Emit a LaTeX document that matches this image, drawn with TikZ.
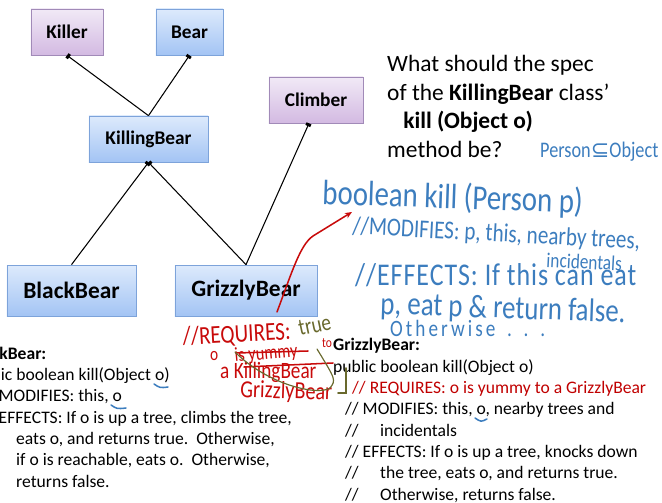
\documentclass[tikz,border=0pt]{standalone}
\usepackage{fontspec}
\setmainfont{Carlito}
\newfontfamily\handfont[FakeStretch=0.82]{Carlito}
\newfontfamily\symfont{DejaVu Sans}
\usetikzlibrary{arrows.meta,calc}

\definecolor{bluetop}{RGB}{221,234,252}
\definecolor{bluebottom}{RGB}{163,196,244}
\definecolor{blueline}{RGB}{125,163,218}
\definecolor{purpletop}{RGB}{241,233,246}
\definecolor{purplebottom}{RGB}{211,186,226}
\definecolor{purpleline}{RGB}{161,138,184}
\definecolor{inkblue}{RGB}{60,125,190}
\definecolor{inkred}{RGB}{200,10,10}
\definecolor{inkolive}{RGB}{105,105,45}
\definecolor{specred}{RGB}{192,0,0}

\begin{document}
\begin{tikzpicture}[x=0.03cm,y=-0.03cm]
\tikzset{
    classbox/.style={
       line width=0.6pt,
       inner sep=0pt,
       font=\bfseries\fontsize{16.5}{20}\selectfont
    },
    bluebox/.style={classbox, draw=blueline, top color=bluetop, bottom color=bluebottom},
    purplebox/.style={classbox, draw=purpleline, top color=purpletop, bottom color=purplebottom},
    bigbox/.style={font=\bfseries\fontsize{20}{24}\selectfont},
    link/.style={{Square[length=2.5pt,width=4.5pt]}-, line width=0.9pt},
    code/.style={align=left, inner sep=0pt, anchor=base west, font=\fontsize{15}{18.2}\selectfont},
    hand/.style={inner sep=0pt, anchor=base west, font=\handfont},
    ink/.style={line width=1.3pt, line cap=round}
}
\useasboundingbox (0,0) rectangle (662,503);
\clip (0,0) rectangle (662,503);
%
\node[purplebox, minimum width=2.16cm, minimum height=1.38cm] (killer) at (67,32) {Killer};
\node[bluebox, minimum width=2.01cm, minimum height=1.38cm] (bear) at (189.5,32) {Bear};
\node[purplebox, minimum width=2.82cm, minimum height=1.38cm] (climber) at (316,100) {Climber};
\node[bluebox, minimum width=3.57cm, minimum height=1.38cm] (killingbear) at (148.5,139) {KillingBear};
\node[bluebox, bigbox, minimum width=3.87cm, minimum height=1.53cm] (blackbear) at (71.5,290.5) {BlackBear};
\node[bluebox, bigbox, minimum width=4.26cm, minimum height=1.53cm] (grizzlybear) at (246,290.5) {GrizzlyBear};

\draw[link] (killer.south) -- (killingbear.north);
\draw[link] (bear.south) -- (killingbear.north);
\draw[link] ($(climber.south)+(-7,0)$) -- (grizzlybear.north);
\draw[link] (killingbear.south) -- (blackbear.north);
\draw[link] (killingbear.south) -- (grizzlybear.north);
%
\node[code, font=\fontsize{20}{24.3}\selectfont] (question) at (387,157)
  {What should the spec\\of the \textbf{KillingBear} class’\\\hspace{13.7pt}\textbf{kill (Object o)}\\method be?};
%
\node[code] (blackspec) at (-31,487)
  {\textbf{BlackBear:}\\
   public boolean kill(Object o)\\
   \hspace{10.2pt}// MODIFIES: this, o\\
   \hspace{10.2pt}// EFFECTS: If o is up a tree, climbs the tree,\\
   \hspace{40.1pt}eats o, and returns true.\ \ Otherwise,\\
   \hspace{40.1pt}if o is reachable, eats o.\ \ Otherwise,\\
   \hspace{40.1pt}returns false.};
\node[code] (grizzlyspec) at (333,500)
  {\textbf{GrizzlyBear:}\\
   public boolean kill(Object o)\\
   \hspace{16.2pt}\textcolor{specred}{// REQUIRES: o is yummy to a GrizzlyBear}\\
   \hspace{10.2pt}// MODIFIES: this, o, nearby trees and\\
   \hspace{10.2pt}\makebox[29.9pt][l]{//}incidentals\\
   \hspace{10.2pt}// EFFECTS: If o is up a tree, knocks down\\
   \hspace{10.2pt}\makebox[29.9pt][l]{//}the tree, eats o, and returns true.\\
   \hspace{10.2pt}\makebox[29.9pt][l]{//}Otherwise, returns false.};
%
\node[hand, text=inkblue, font=\handfont\fontsize{19}{19}\selectfont] (subtype) at (540,157) {Person{\symfont ⊆}Object};
\node[hand, text=inkblue, font=\handfont\fontsize{30}{30}\selectfont, rotate=-2] (signature) at (322,204) {boolean kill (Person p)};
\node[hand, text=inkblue, font=\handfont\fontsize{22}{22}\selectfont, rotate=-3] (modifies) at (352,234) {//MODIFIES: p, this, nearby trees,};
\node[hand, text=inkblue, font=\handfont\fontsize{18}{18}\selectfont, rotate=-3] (incidentals) at (546,267) {incidentals};
\node[hand, text=inkblue, font=\handfont\fontsize{27}{27}\selectfont\addfontfeatures{LetterSpace=3}] (effects) at (355,285) {//EFFECTS: If this can eat};
\node[hand, text=inkblue, font=\handfont\fontsize{28}{28}\selectfont, rotate=-2] (eatp) at (380,314) {p, eat p \& return false.};
\node[hand, text=inkblue, font=\handfont\fontsize{20}{20}\selectfont\addfontfeatures{LetterSpace=13}] (otherwise) at (390,336) {Otherwise\hspace{10pt}.\hspace{10pt}.\hspace{10pt}.};
%
\node[hand, text=inkred, font=\handfont\fontsize{22}{22}\selectfont, rotate=3] (requires) at (183,345) {//REQUIRES:};
\node[hand, text=inkolive, font=\handfont\fontsize{20}{20}\selectfont, rotate=12] (true) at (300,336) {true};
\node[hand, text=inkred, font=\handfont\fontsize{16}{16}\selectfont] (o) at (210,360) {o};
\node[hand, text=inkred, font=\handfont\fontsize{17}{17}\selectfont, rotate=5] (yummy) at (235,362) {is yummy};
\node[hand, text=inkred, font=\handfont\fontsize{12}{12}\selectfont] (to) at (322,347) {to};
\node[hand, text=inkred, font=\handfont\fontsize{20}{20}\selectfont] (akilling) at (220,378) {a KillingBear};
\node[hand, text=inkred, font=\handfont\fontsize{21}{21}\selectfont, rotate=-2] (grizzlyink) at (240,397) {GrizzlyBear};
\draw[ink, inkred] (236,353) -- (308,351);
\draw[ink, inkred] (244,367) -- (333,363);
\draw[ink, inkolive, line width=1pt] (235,352) .. controls (268,385) and (318,396) .. (330,388)
    .. controls (336,380) .. (317,349);
\draw[ink, inkolive] (346,368) -- (346,393) -- (338,393);
%
\coordinate (inkstart) at (277,312);
\coordinate (inkbend) at (313,236);
\coordinate (inkend) at (352,212);
\draw[ink, inkred, -{Stealth[length=6pt,width=5pt]}] (inkstart) .. controls (292,272) and (300,245) .. (inkbend) -- (inkend);
%
\draw[ink, inkblue] (154,384) .. controls (160,388) .. (168,387);
\draw[ink, inkblue] (111,405) .. controls (117,409) .. (126,408);
\draw[ink, inkblue] (475,418) .. controls (481,422) .. (487,419);
\end{tikzpicture}
\end{document}
